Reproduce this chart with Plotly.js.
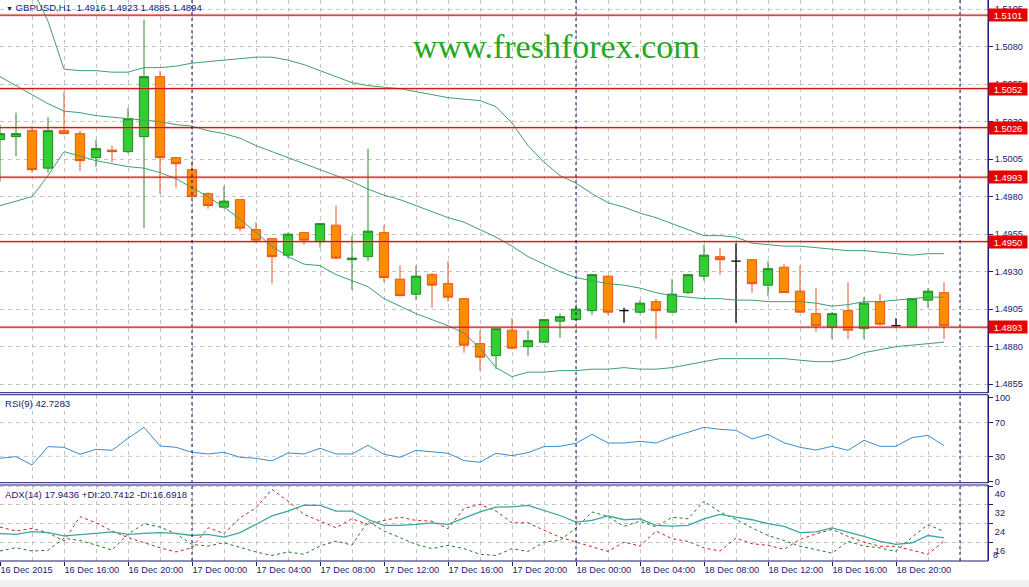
<!DOCTYPE html>
<html><head><meta charset="utf-8">
<script src="https://cdn.plot.ly/plotly-3.0.1.min.js"></script>
<style>html,body{margin:0;padding:0;background:#fff;overflow:hidden}#chart{width:1029px;height:587px}</style>
</head><body><div id="chart"></div>
<script>
// ---------- data ----------
const SYMBOL = 'GBPUSD';
const TIMEFRAME = 'H1';
const FIRST_BAR = [2015, 11, 16, 12];   // 16 Dec 2015 12:00, hourly bars
const BAR_COUNT = 60;

const OPEN  = [1.5018,1.5020,1.5024,1.4999,1.5024,1.5022,1.5006,1.5011,1.5010,1.5020,
               1.5060,1.5006,1.4998,1.4982,1.4973,1.4978,1.4958,1.4952,1.4941,1.4956,
               1.4950,1.4961,1.4938,1.4940,1.4956,1.4925,1.4915,1.4928,1.4922,1.4912,
               1.4882,1.4874,1.4891,1.4880,1.4883,1.4897,1.4898,1.4904,1.4927,1.4904,
               1.4903,1.4910,1.4903,1.4916,1.4927,1.4940,1.4937,1.4938,1.4921,1.4933,
               1.4917,1.4902,1.4893,1.4904,1.4892,1.4910,1.4894,1.4893,1.4911,1.4916];
const HIGH  = [1.5028,1.5036,1.5027,1.5033,1.5050,1.5024,1.5018,1.5014,1.5039,1.5098,
               1.5064,1.5006,1.5003,1.4983,1.4987,1.4978,1.4963,1.4952,1.4956,1.4956,
               1.4962,1.4974,1.4954,1.5012,1.4961,1.4934,1.4934,1.4929,1.4937,1.4912,
               1.4891,1.4892,1.4899,1.4891,1.4898,1.4902,1.4908,1.4928,1.4927,1.4906,
               1.4911,1.4912,1.4925,1.4928,1.4948,1.4946,1.4949,1.4938,1.4937,1.4935,
               1.4934,1.4919,1.4903,1.4923,1.4913,1.4915,1.4899,1.4912,1.4919,1.4923];
const LOW   = [1.4990,1.5007,1.4996,1.4996,1.5022,1.4997,1.5000,1.5003,1.5009,1.4959,
               1.4982,1.4986,1.4979,1.4972,1.4972,1.4957,1.4949,1.4922,1.4939,1.4948,
               1.4946,1.4938,1.4918,1.4937,1.4923,1.4914,1.4911,1.4906,1.4910,1.4876,
               1.4864,1.4865,1.4878,1.4874,1.4883,1.4886,1.4898,1.4901,1.4901,1.4896,
               1.4902,1.4885,1.4903,1.4915,1.4924,1.4928,1.4896,1.4916,1.4914,1.4916,
               1.4903,1.4890,1.4885,1.4885,1.4885,1.4894,1.4893,1.4893,1.4906,1.4885];
const CLOSE = [1.5022,1.5022,1.4998,1.5024,1.5022,1.5004,1.5012,1.5010,1.5032,1.5060,
               1.5006,1.5002,1.4980,1.4974,1.4977,1.4959,1.4951,1.4940,1.4955,1.4951,
               1.4962,1.4939,1.4939,1.4957,1.4926,1.4914,1.4927,1.4921,1.4913,1.4881,
               1.4873,1.4892,1.4879,1.4884,1.4898,1.4900,1.4905,1.4928,1.4903,1.4904,
               1.4909,1.4904,1.4915,1.4928,1.4941,1.4938,1.4937,1.4922,1.4932,1.4916,
               1.4903,1.4894,1.4902,1.4891,1.4909,1.4895,1.4894,1.4912,1.4917,1.4894];

const BB_UPPER = [1.5145,1.5135,1.5119,1.5097,1.5065,1.5064,1.5064,1.5063,1.5063,1.5066,
                  1.5066,1.5067,1.5069,1.5070,1.5071,1.5072,1.5073,1.5073,1.5071,1.5068,
                  1.5064,1.5060,1.5056,1.5054,1.5053,1.5052,1.5050,1.5048,1.5046,1.5045,
                  1.5044,1.5040,1.5029,1.5014,1.5003,1.4994,1.4989,1.4982,1.4976,1.4973,
                  1.4969,1.4966,1.4962,1.4958,1.4954,1.4954,1.4953,1.4949,1.4948,1.4947,
                  1.4947,1.4946,1.4945,1.4944,1.4944,1.4943,1.4942,1.4941,1.4942,1.4942];
const BB_MIDDLE = [1.5060,1.5054,1.5048,1.5042,1.5037,1.5036,1.5034,1.5033,1.5032,1.5031,
                   1.5030,1.5028,1.5027,1.5024,1.5022,1.5019,1.5014,1.5010,1.5006,1.5002,
                   1.4998,1.4994,1.4990,1.4985,1.4981,1.4978,1.4974,1.4970,1.4966,1.4963,
                   1.4958,1.4953,1.4947,1.4940,1.4935,1.4930,1.4926,1.4924,1.4922,1.4921,
                   1.4919,1.4916,1.4914,1.4913,1.4912,1.4912,1.4911,1.4911,1.4910,1.4910,
                   1.4910,1.4909,1.4907,1.4908,1.4910,1.4910,1.4911,1.4912,1.4913,1.4913];
const BB_LOWER = [1.4974,1.4977,1.4980,1.4994,1.5010,1.5007,1.5004,1.5002,1.5000,1.4999,
                  1.4996,1.4992,1.4986,1.4980,1.4973,1.4965,1.4956,1.4947,1.4940,1.4935,
                  1.4934,1.4928,1.4924,1.4920,1.4912,1.4907,1.4902,1.4898,1.4894,1.4889,
                  1.4879,1.4866,1.4860,1.4863,1.4863,1.4864,1.4864,1.4865,1.4865,1.4866,
                  1.4865,1.4865,1.4866,1.4868,1.4870,1.4872,1.4872,1.4872,1.4872,1.4872,
                  1.4871,1.4870,1.4870,1.4872,1.4876,1.4878,1.4880,1.4881,1.4882,1.4883];

const RSI = [27.6,29.6,19.7,41.5,40.7,32.4,38.3,37.1,51.4,64.5,
             42.3,40.7,34.8,32.8,34.8,28.8,27.6,24.5,34.0,32.8,
             39.5,32.8,32.8,43.1,32.4,28.8,37.1,35.2,33.6,24.9,
             22.9,33.6,30.8,34.4,41.5,41.9,45.4,56.1,45.8,45.8,
             47.8,45.8,53.0,58.5,64.5,62.1,60.9,50.6,56.1,46.2,
             40.7,37.5,41.9,37.1,49.0,41.9,41.9,52.2,54.9,42.7283];

const ADX = [19.8,19.5,20.6,20.2,18.8,19.5,19.9,20.5,19.5,19.9,
             20.2,19.9,19.0,19.5,18.3,20.2,23.6,27.3,29.4,31.9,
             31.8,29.4,29.4,25.8,23.3,23.3,23.7,24.4,23.7,26.5,
             29.0,31.1,31.2,31.8,29.7,27.5,24.7,25.4,27.3,25.7,
             26.1,23.3,23.0,23.3,26.1,28.0,26.8,25.7,24.0,22.9,
             20.2,20.5,22.2,20.5,18.6,16.5,15.2,15.9,19.0,17.9436];
const PLUS_DI = [12.4,13.8,12.4,12.7,17.8,16.9,14.9,12.8,19.5,24.0,
                 22.6,19.8,15.2,14.5,15.9,13.8,12.0,10.5,12.0,11.0,
                 14.5,16.6,14.9,25.1,20.9,18.1,15.2,13.4,14.8,13.4,
                 11.0,10.5,13.4,12.2,16.2,16.9,22.2,29.0,27.1,22.9,
                 25.1,22.6,26.8,26.1,33.6,29.0,25.8,22.2,19.0,16.9,
                 14.4,13.0,11.5,16.5,14.5,13.7,12.2,18.3,23.6,20.7412];
const MINUS_DI = [22.6,20.9,22.0,20.2,16.6,27.0,24.4,20.9,18.1,15.9,
                  13.8,12.0,13.8,22.3,19.8,26.5,30.8,38.6,33.6,28.0,
                  25.1,22.3,26.1,23.7,25.4,26.8,25.4,25.1,21.9,30.5,
                  32.2,29.4,24.4,24.4,21.2,18.3,16.2,14.1,12.2,16.2,
                  14.5,20.9,17.6,16.5,13.7,12.4,17.9,15.5,14.8,13.1,
                  17.3,19.7,21.6,18.6,16.2,14.4,14.4,12.7,11.0,16.6918];

const LEVELS = [1.5101, 1.5052, 1.5026, 1.4993, 1.4950, 1.4893];
const DAY_SEPARATORS = ['2015-12-17 00:00', '2015-12-18 00:00', '2015-12-19 00:00'];
const TICK_TIMES = ['2015-12-16 12:00','2015-12-16 16:00','2015-12-16 20:00','2015-12-17 00:00',
                    '2015-12-17 04:00','2015-12-17 08:00','2015-12-17 12:00','2015-12-17 16:00',
                    '2015-12-17 20:00','2015-12-18 00:00','2015-12-18 04:00','2015-12-18 08:00',
                    '2015-12-18 12:00','2015-12-18 16:00','2015-12-18 20:00'];
const TICK_TEXT = ['16 Dec 2015','16 Dec 16:00','16 Dec 20:00','17 Dec 00:00','17 Dec 04:00',
                   '17 Dec 08:00','17 Dec 12:00','17 Dec 16:00','17 Dec 20:00','18 Dec 00:00',
                   '18 Dec 04:00','18 Dec 08:00','18 Dec 12:00','18 Dec 16:00','18 Dec 20:00'];
const RSI_LEVELS = [30, 70];
const RSI_TICKS = [0, 30, 70, 100];
const ADX_TICKS = [40, 32, 24, 16];
const ADX_MIN_LABEL = '8';
const X_RANGE = ['2015-12-16 12:00', '2015-12-19 01:45'];
const PRICE_RANGE = [1.48493, 1.51111];
const RSI_RANGE = [-1.4, 103.3];
const ADX_RANGE = [8.14, 40.49];
const WATERMARK = 'www.freshforex.com';

// ---------- build ----------
const TIMES = [];
for (let i = 0; i < BAR_COUNT; i++) {
  const d = new Date(Date.UTC(FIRST_BAR[0], FIRST_BAR[1], FIRST_BAR[2], FIRST_BAR[3] + i));
  TIMES.push(d.toISOString().slice(0, 16).replace('T', ' '));
}
const FONT = '"Liberation Sans", Arial, sans-serif';
const NAVY = '#1a1a72';
const GRID = '#c4c4c4';
const GDASH = '4px,4px';

const norm = [], doji = [];
for (let i = 0; i < BAR_COUNT; i++) (OPEN[i] === CLOSE[i] ? doji : norm).push(i);
const pick = (arr, idx) => idx.map(i => arr[i]);

const traces = [
  {type:'candlestick', x:pick(TIMES,norm), open:pick(OPEN,norm), high:pick(HIGH,norm),
   low:pick(LOW,norm), close:pick(CLOSE,norm), xaxis:'x', yaxis:'y', whiskerwidth:0,
   increasing:{line:{color:'#238a23', width:1}, fillcolor:'#32cd32'},
   decreasing:{line:{color:'#e5561a', width:1}, fillcolor:'#ff8c00'}, hoverinfo:'skip'},
  {type:'candlestick', x:pick(TIMES,doji), open:pick(OPEN,doji), high:pick(HIGH,doji),
   low:pick(LOW,doji), close:pick(CLOSE,doji), xaxis:'x', yaxis:'y', whiskerwidth:0,
   increasing:{line:{color:'#000', width:1.3}, fillcolor:'#000'},
   decreasing:{line:{color:'#000', width:1.3}, fillcolor:'#000'}, hoverinfo:'skip'},
  {type:'scatter', mode:'lines', x:TIMES, y:BB_UPPER, xaxis:'x', yaxis:'y', line:{color:'#3f9f72', width:1}},
  {type:'scatter', mode:'lines', x:TIMES, y:BB_MIDDLE, xaxis:'x', yaxis:'y', line:{color:'#3f9f72', width:1}},
  {type:'scatter', mode:'lines', x:TIMES, y:BB_LOWER, xaxis:'x', yaxis:'y', line:{color:'#3f9f72', width:1}},
  {type:'scatter', mode:'lines', x:TIMES, y:RSI, xaxis:'x', yaxis:'y2', line:{color:'#3a8cd0', width:1}},
  {type:'scatter', mode:'lines', x:TIMES, y:MINUS_DI, xaxis:'x', yaxis:'y3', line:{color:'#cc2222', width:1, dash:'3px,3px'}},
  {type:'scatter', mode:'lines', x:TIMES, y:PLUS_DI, xaxis:'x', yaxis:'y3', line:{color:'#267a26', width:1, dash:'3px,3px'}},
  {type:'scatter', mode:'lines', x:TIMES, y:ADX, xaxis:'x', yaxis:'y3', line:{color:'#3aa6a6', width:1.3}}
];

const DOM_MAIN = [0.300, 1], DOM_RSI = [0.1396, 0.2964], DOM_ADX = [0, 0.1355];

const shapes = [];
LEVELS.forEach(v => {
  shapes.push({type:'line', xref:'paper', x0:0, x1:1, yref:'y', y0:v, y1:v, layer:'above',
               line:{color:'rgba(255,120,120,0.35)', width:3}});
  shapes.push({type:'line', xref:'paper', x0:0, x1:1, yref:'y', y0:v, y1:v, layer:'above',
               line:{color:'#c40000', width:1}});
});
RSI_LEVELS.forEach(v => shapes.push({type:'line', xref:'paper', x0:0, x1:1, yref:'y2', y0:v, y1:v,
               layer:'below', line:{color:GRID, width:1, dash:GDASH}}));
DAY_SEPARATORS.forEach(t => shapes.push({type:'line', xref:'x', x0:t, x1:t, yref:'paper', y0:0, y1:1,
               layer:'above', line:{color:'#10106a', width:1, dash:'3px,3px'}}));
[[DOM_MAIN[0], 1.02], [DOM_RSI[0], DOM_RSI[1]], [DOM_ADX[0], DOM_ADX[1]]].forEach(d =>
  shapes.push({type:'rect', xref:'paper', yref:'paper', x0:-0.01, x1:1, y0:d[0], y1:d[1], layer:'above',
               line:{color:NAVY, width:1}, fillcolor:'rgba(0,0,0,0)'}));
// status bar strip at the bottom
shapes.push({type:'rect', xref:'paper', yref:'paper', x0:-0.01, x1:1.05, y0:-0.047, y1:-0.034,
             layer:'above', line:{width:0}, fillcolor:'#f0f0f0'});

const annotations = [];
const last = BAR_COUNT - 1;
annotations.push({xref:'paper', yref:'paper', x:0, y:0.987, xanchor:'left', yanchor:'middle', xshift:4,
  showarrow:false, font:{family:FONT, size:9.6, color:NAVY},
  text:'<span style="font-size:7px">▼</span> ' + SYMBOL + ',' + TIMEFRAME + '  ' +
       [OPEN[last], HIGH[last], LOW[last], CLOSE[last]].map(v => v.toFixed(4)).join(' ')});
annotations.push({xref:'paper', yref:'paper', x:0.5628, y:0.918, xanchor:'center', yanchor:'middle',
  showarrow:false, text:WATERMARK, font:{family:'"Liberation Serif", "Times New Roman", serif', size:34, color:'#25a825'}});
annotations.push({xref:'paper', yref:'paper', x:0, y:0.2807, xanchor:'left', yanchor:'middle', xshift:3,
  showarrow:false, font:{family:FONT, size:9.6, color:NAVY}, text:'RSI(9) ' + RSI[last].toFixed(4)});
annotations.push({xref:'paper', yref:'paper', x:0, y:0.1194, xanchor:'left', yanchor:'middle', xshift:3,
  showarrow:false, font:{family:FONT, size:9.6, color:NAVY},
  text:'ADX(14) ' + ADX[last].toFixed(4) + ' +DI:' + PLUS_DI[last].toFixed(4) + ' -DI:' + MINUS_DI[last].toFixed(4)});
LEVELS.forEach(v => annotations.push({xref:'paper', yref:'y', x:1, y:v, xanchor:'left', yanchor:'middle',
  showarrow:false, text:v.toFixed(4), bgcolor:'#e60000', width:36, height:10, borderpad:1, align:'center',
  font:{family:FONT, size:9.4, color:'#ffffff'}}));
annotations.push({xref:'paper', yref:'paper', x:1, y:0.0107, xanchor:'left', yanchor:'middle', xshift:3,
  showarrow:false, text:ADX_MIN_LABEL, font:{family:FONT, size:9.2, color:NAVY}});

const layout = {
  width:1029, height:587, margin:{l:0, r:41, t:0, b:26},
  paper_bgcolor:'#ffffff', plot_bgcolor:'#ffffff', showlegend:false, hovermode:false, dragmode:false,
  boxgap:0.42, boxgroupgap:0,
  font:{family:FONT, size:9.2, color:NAVY},
  xaxis:{type:'date', range:X_RANGE, anchor:'y3', rangeslider:{visible:false}, fixedrange:true,
    tickmode:'array', tickvals:TICK_TIMES, ticktext:TICK_TEXT, ticks:'outside', ticklen:4, tickcolor:NAVY,
    ticklabelposition:'outside right', tickfont:{family:FONT, size:9.2, color:NAVY},
    showgrid:true, gridcolor:GRID, griddash:GDASH, gridwidth:1, zeroline:false, showline:false,
    minor:{tickmode:'linear', tick0:'2015-12-16 12:00', dtick:7200000, showgrid:true, gridcolor:GRID,
           griddash:GDASH, gridwidth:1, ticks:''}},
  yaxis:{domain:DOM_MAIN, range:PRICE_RANGE, side:'right', anchor:'x', fixedrange:true,
    tickmode:'linear', tick0:1.4855, dtick:0.0025, tickformat:'.4f', ticks:'outside', ticklen:4, tickcolor:NAVY,
    tickfont:{family:FONT, size:9.2, color:NAVY}, showgrid:true, gridcolor:GRID, griddash:GDASH,
    showline:true, linecolor:NAVY, zeroline:false},
  yaxis2:{domain:DOM_RSI, range:RSI_RANGE, side:'right', anchor:'x', fixedrange:true,
    tickmode:'array', tickvals:RSI_TICKS, ticks:'outside', ticklen:4, tickcolor:NAVY,
    tickfont:{family:FONT, size:9.2, color:NAVY}, showgrid:false, showline:true, linecolor:NAVY, zeroline:false},
  yaxis3:{domain:DOM_ADX, range:ADX_RANGE, side:'right', anchor:'x', fixedrange:true,
    tickmode:'array', tickvals:ADX_TICKS, ticks:'outside', ticklen:4, tickcolor:NAVY, ticklabelshift:8,
    tickfont:{family:FONT, size:9.2, color:NAVY}, showgrid:true, gridcolor:GRID, griddash:GDASH,
    showline:true, linecolor:NAVY, zeroline:false},
  shapes:shapes, annotations:annotations
};

Plotly.newPlot('chart', traces, layout, {staticPlot:true, displayModeBar:false});
</script>
</body></html>
